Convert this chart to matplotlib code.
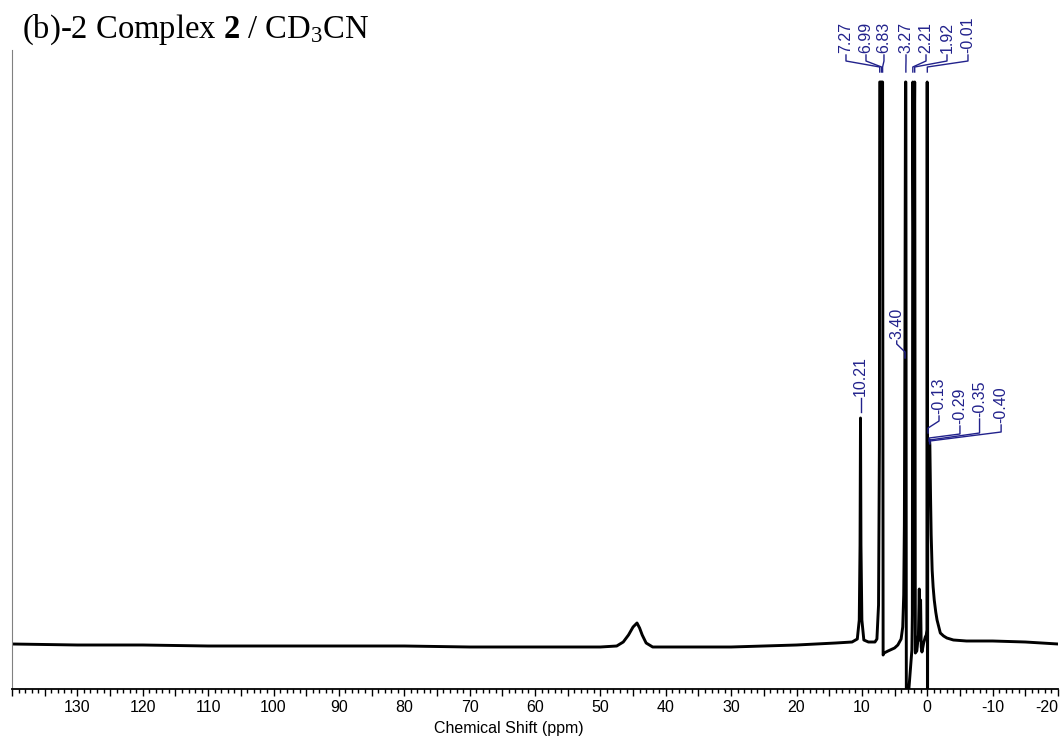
import matplotlib
matplotlib.use('Agg')
import matplotlib.pyplot as plt
from matplotlib.ticker import MultipleLocator

plt.rcParams['font.family'] = ['Liberation Sans', 'DejaVu Sans']
plt.rcParams['mathtext.fontset'] = 'custom'
plt.rcParams['mathtext.rm'] = 'Liberation Serif'
plt.rcParams['mathtext.bf'] = 'Liberation Serif:bold'
plt.rcParams['mathtext.it'] = 'Liberation Serif:italic'

# spectrum trace (ppm, intensity in arbitrary units)
shift_ppm = [140.0, 130, 120, 110, 100, 90, 80, 70, 60, 50, 47.5, 46.5, 45.7, 45.0, 44.4,
             44.0, 43.6, 43.0, 42.0, 40, 30, 20, 14, 11.5, 10.7, 10.4, 10.28, 10.21, 10.14,
             10.0, 9.7, 9.0, 8.0, 7.7, 7.45, 7.32, 7.27, 7.18, 7.08, 6.99, 6.91, 6.83, 6.75,
             6.6, 6.0, 5.0, 4.5, 4.0, 3.75, 3.6, 3.5, 3.42, 3.33, 3.27, 3.20, 2.90, 2.88,
             2.35, 2.28, 2.21, 2.10, 1.92, 1.82, 1.6, 1.35, 1.22, 1.12, 1.02, 0.92, 0.81,
             0.55, 0.3, 0.15, 0.04, 0.01, -0.03, -0.05, -0.08, -0.13, -0.29, -0.35, -0.40,
             -0.5, -0.6, -0.75, -0.9, -1.07, -1.3, -1.5, -2.0, -2.5, -3.0, -4.0, -6.0,
             -10.0, -15.0, -20.0]
intensity = [1, 0, 0, -1, -1, -1, -1, -2, -2, -2, -1, 3, 10, 18, 22,
             17, 10, 2, -2, -2, -2, 0, 2, 3, 6, 25, 100, 227, 100,
             25, 5, 3, 3, 6, 40, 200, 563, 563, 563, 563, 563, 563, -10,
             -8, -6, -3, 0, 6, 18, 50, 120, 290, 563, 563, -50, -50, -50,
             -5, 30, 563, 400, 563, -8, -6, 10, 56, 5, 45, -2, -7,
             2, 8, 10, 15, 563, -50, -50, 150, 200, 205, 205, 200,
             150, 110, 75, 58, 45, 33, 25, 12, 9, 7, 5, 4,
             4, 3, 1]

# peak labels: text, text position (ppm), peak position (ppm)
top_labels = ['7.27', '6.99', '6.83', '3.27', '2.21', '1.92', '-0.01']
top_text_ppm = [12.43, 9.37, 6.62, 3.25, 0.19, -3.02, -6.23]
top_peak_ppm = [7.27, 6.99, 6.83, 3.27, 2.21, 1.92, -0.01]

mid_labels = ['10.21', '3.40', '-0.13', '-0.29', '-0.35', '-0.40']
mid_text_ppm = [10.21, 4.67, -1.80, -5.0, -8.0, -11.3]
mid_peak_ppm = [10.21, 3.40, -0.13, -0.29, -0.35, -0.40]
# leader heights: text bottom, start, knee 1, knee 2, end
mid_heights = [[249, 247, 240, 240, 233],
               [306, 304, 301, 293, 287],
               [231, 229, 224, 217, 212],
               [221, 219, 211, 207, 204],
               [228, 226, 212, 205, 202],
               [222, 220, 213, 204, 201]]
top_heights = [592, 590, 584, 578, 573]

tick_pos = [140, 135, 130, 125, 120, 115, 110, 105, 100, 95, 90, 85, 80, 75, 70, 65, 60,
            55, 50, 45, 40, 35, 30, 25, 20, 15, 10, 5, 0, -5, -10, -15, -20]
tick_txt = ['', '', '130', '', '120', '', '110', '', '100', '', '90', '', '80', '', '70', '',
            '60', '', '50', '', '40', '', '30', '', '20', '', '10', '', '0', '', '-10', '',
            '-20']

blue = '#22228c'

fig = plt.figure(figsize=(10.62, 7.40), dpi=100)
ax = fig.add_axes([12 / 1062, 1 - 689 / 740, 1046 / 1062, 639 / 740])

ax.plot(shift_ppm, intensity, color='black', lw=2.1)
ax.set_xlim(140, -20)
ax.set_ylim(-44, 595)

for lab, tx, px in zip(top_labels, top_text_ppm, top_peak_ppm):
    yb, y0, y1, y2, y3 = top_heights
    ax.plot([tx, tx, px, px], [y0, y1, y2, y3], color=blue, lw=1.0, clip_on=False)
    ax.text(tx, yb, lab, rotation=90, ha='center', va='bottom', color=blue,
            fontsize=11.5, clip_on=False)

for lab, tx, px, h in zip(mid_labels, mid_text_ppm, mid_peak_ppm, mid_heights):
    yb, y0, y1, y2, y3 = h
    ax.plot([tx, tx, px, px], [y0, y1, y2, y3], color=blue, lw=1.0, clip_on=False)
    ax.text(tx, yb, lab, rotation=90, ha='center', va='bottom', color=blue,
            fontsize=11.5)

for s in ['top', 'right']:
    ax.spines[s].set_visible(False)
ax.spines['left'].set_color('#808080')
ax.spines['left'].set_linewidth(0.8)
ax.spines['bottom'].set_linewidth(1.3)
ax.set_yticks([])

ax.set_xticks(tick_pos)
ax.set_xticklabels(tick_txt)
ax.xaxis.set_minor_locator(MultipleLocator(1))
ax.tick_params(axis='x', which='major', length=5, width=1.0, labelsize=11.5, pad=3)
ax.tick_params(axis='x', which='minor', length=3, width=1.0)
ax.get_xticklabels()[-1].set_horizontalalignment('right')

fig.text(509 / 1062, 1 - 728 / 740, 'Chemical Shift (ppm)', ha='center', va='center',
         fontsize=11.5)
fig.text(22 / 1062, 1 - 38 / 740, r'(b)-2 Complex $\mathbf{2}$ / CD$_3$CN',
         family='Liberation Serif', fontsize=23.5, va='baseline', ha='left')

fig.savefig('out.png', dpi=100)
